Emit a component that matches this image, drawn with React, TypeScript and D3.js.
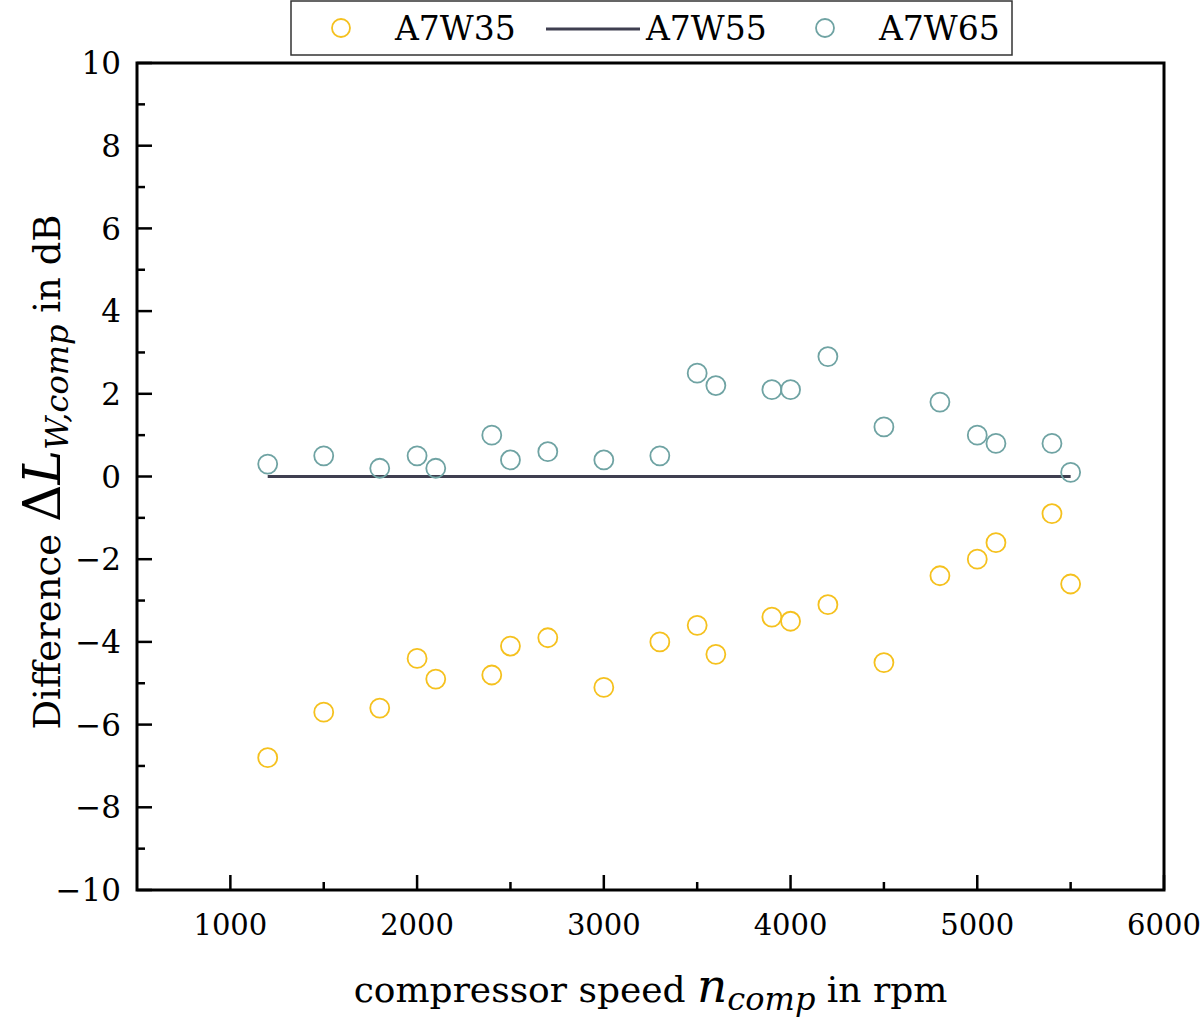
import React from 'react';
import * as d3 from 'd3';

// compressor speed in rpm
const speeds = [1200, 1500, 1800, 2000, 2100, 2400, 2500, 2700, 3000, 3300, 3500, 3600, 3900, 4000, 4200, 4500, 4800, 5000, 5100, 5400, 5500];
// differences in dB, relative to A7W55
const a7w35 = [-6.8, -5.7, -5.6, -4.4, -4.9, -4.8, -4.1, -3.9, -5.1, -4.0, -3.6, -4.3, -3.4, -3.5, -3.1, -4.5, -2.4, -2.0, -1.6, -0.9, -2.6];
const a7w55 = [0, 0, 0, 0, 0, 0, 0, 0, 0, 0, 0, 0, 0, 0, 0, 0, 0, 0, 0, 0, 0];
const a7w65 = [0.3, 0.5, 0.2, 0.5, 0.2, 1.0, 0.4, 0.6, 0.4, 0.5, 2.5, 2.2, 2.1, 2.1, 2.9, 1.2, 1.8, 1.0, 0.8, 0.8, 0.1];

const xTicks = [1000, 2000, 3000, 4000, 5000, 6000];
const xMinor = [1500, 2500, 3500, 4500, 5500];
const yTicks = [-10, -8, -6, -4, -2, 0, 2, 4, 6, 8, 10];
const yMinor = [-9, -7, -5, -3, -1, 1, 3, 5, 7, 9];

const YELLOW = '#f5c11e';
const TEAL = '#6fa3a3';
const LINE = '#3f3f50';
const FONT = '"DejaVu Serif", serif';

const App = () => {
  const width = 1200, height = 1020;
  const left = 137, right = 1164, top = 63, bottom = 890;

  const x = d3.scaleLinear().domain([500, 6000]).range([left, right]);
  const y = d3.scaleLinear().domain([-10, 10]).range([bottom, top]);

  const line = d3.line<number>()
    .x((d, i) => x(speeds[i]))
    .y(d => y(d));

  return (
    <svg width={width} height={height} style={{ position: 'absolute', left: 0, top: 0, background: '#fff' }} fontFamily={FONT}>
      {/* legend */}
      <rect x={291} y={1} width={721} height={54} fill="#fff" stroke="#333" strokeWidth={1.5} />
      <circle cx={341} cy={28} r={9} fill="none" stroke={YELLOW} strokeWidth={1.8} />
      <text x={395} y={40} fontSize={33}>A7W35</text>
      <line x1={546} x2={640} y1={29} y2={29} stroke={LINE} strokeWidth={3} />
      <text x={646} y={40} fontSize={33}>A7W55</text>
      <circle cx={825} cy={28} r={9} fill="none" stroke={TEAL} strokeWidth={1.8} />
      <text x={879} y={40} fontSize={33}>A7W65</text>

      {/* series */}
      <path d={line(a7w55) || ''} fill="none" stroke={LINE} strokeWidth={3} />
      {a7w35.map((v, i) => (
        <circle key={'a' + i} cx={x(speeds[i])} cy={y(v)} r={9.5} fill="none" stroke={YELLOW} strokeWidth={1.8} />
      ))}
      {a7w65.map((v, i) => (
        <circle key={'c' + i} cx={x(speeds[i])} cy={y(v)} r={9.5} fill="none" stroke={TEAL} strokeWidth={1.8} />
      ))}

      {/* ticks, inward */}
      {xTicks.map(t => (
        <g key={'xt' + t}>
          <line x1={x(t)} x2={x(t)} y1={bottom} y2={bottom - 15} stroke="#000" strokeWidth={2.5} />
          <text x={x(t)} y={935} fontSize={29} textAnchor="middle">{d3.format('d')(t)}</text>
        </g>
      ))}
      {xMinor.map(t => (
        <line key={'xm' + t} x1={x(t)} x2={x(t)} y1={bottom} y2={bottom - 8} stroke="#000" strokeWidth={2.5} />
      ))}
      {yTicks.map(t => (
        <g key={'yt' + t}>
          <line x1={left} x2={left + 15} y1={y(t)} y2={y(t)} stroke="#000" strokeWidth={2.5} />
          <text x={121} y={y(t)} dy="0.36em" fontSize={31} textAnchor="end">{d3.format('d')(t)}</text>
        </g>
      ))}
      {yMinor.map(t => (
        <line key={'ym' + t} x1={left} x2={left + 8} y1={y(t)} y2={y(t)} stroke="#000" strokeWidth={2.5} />
      ))}

      {/* frame */}
      <rect x={left} y={top} width={right - left} height={bottom - top} fill="none" stroke="#000" strokeWidth={3} />

      {/* axis titles */}
      <text x={(left + right) / 2} y={1002} fontSize={36} textAnchor="middle">
        compressor speed <tspan fontStyle="italic" fontSize={47}>n</tspan>
        <tspan fontStyle="italic" fontSize={32} dy={8}>comp</tspan>
        <tspan dy={-8}> in rpm</tspan>
      </text>
      <text transform={`translate(60, 472) rotate(-90)`} fontSize={37} textAnchor="middle">
        Difference <tspan fontSize={52}>Δ</tspan>
        <tspan fontSize={52} fontStyle="italic">L</tspan>
        <tspan fontStyle="italic" fontSize={32} dy={8}>W,comp</tspan>
        <tspan dy={-8}> in dB</tspan>
      </text>
    </svg>
  );
};

export default App;
